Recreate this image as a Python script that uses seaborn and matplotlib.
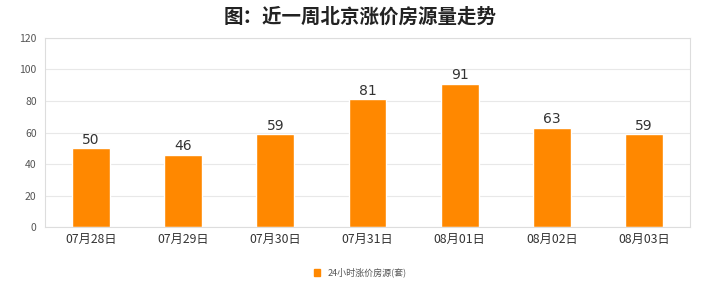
import matplotlib
matplotlib.use("Agg")
import matplotlib.pyplot as plt
import seaborn as sns
import pandas as pd

dates = ["07月28日", "07月29日", "07月30日", "07月31日", "08月01日", "08月02日", "08月03日"]
values = [50, 46, 59, 81, 91, 63, 59]
series_name = "24小时涨价房源(套)"
title = "图：近一周北京涨价房源量走势"
yticks = [0, 20, 40, 60, 80, 100, 120]

sns.set_theme(style="white")
plt.rcParams['font.family'] = ['Noto Sans CJK SC', 'DejaVu Sans']

df = pd.DataFrame({"date": dates, "value": values, "series": series_name})

fig = plt.figure(figsize=(7.2, 3.03), dpi=100)
ax = fig.add_axes([0.0625, 0.2508, 0.8958, 0.6238])
color = "#FF8800"
sns.barplot(data=df, x="date", y="value", hue="series", palette=[color],
            width=0.41, ax=ax, legend=False, saturation=1)

ax.set_ylim(0, 120)
ax.set_yticks(yticks)
ax.set_xlim(-0.5, len(dates) - 0.5)
ax.set_xlabel("")
ax.set_ylabel("")
ax.yaxis.grid(True, color="#e8e8e8", linewidth=0.8)
ax.set_axisbelow(True)
for s in ax.spines.values():
    s.set_color("#dddddd")
    s.set_linewidth(0.8)
ax.tick_params(axis="y", labelsize=7.5, colors="#555555", length=0, pad=6)
ax.tick_params(axis="x", labelsize=8.8, colors="#333333", length=0, pad=4)

for i, v in enumerate(values):
    ax.text(i, v + 1.0, str(v), ha="center", va="bottom", fontsize=10, color="#333333",
            family=['DejaVu Sans'])

fig.text(0.5, 0.945, title, ha="center", va="center", fontsize=14, fontweight="bold", color="#222222")

from matplotlib.patches import Patch
fig.legend(handles=[Patch(facecolor=color, edgecolor=color, label=series_name)],
           loc="center", bbox_to_anchor=(0.5, 0.1), frameon=False, fontsize=6.5,
           handlelength=0.7, handleheight=0.7, labelcolor="#555555")

fig.savefig("out.png", dpi=100)
